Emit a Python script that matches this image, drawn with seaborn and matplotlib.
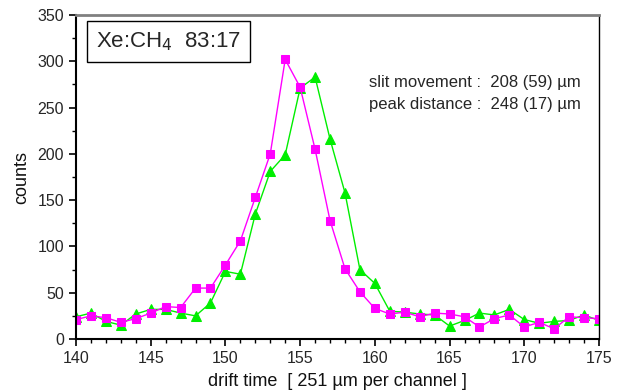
import numpy as np
import pandas as pd
import seaborn as sns
import matplotlib
matplotlib.use("Agg")
import matplotlib.pyplot as plt
from matplotlib.ticker import MultipleLocator

channels = list(range(140, 176))
counts_magenta = [21, 25, 23, 18, 22, 28, 35, 34, 55, 55, 80, 106, 153, 200, 302, 272,
                  205, 128, 76, 51, 33, 27, 29, 24, 28, 27, 24, 13, 22, 26, 13, 18, 11, 24, 23, 22]
counts_green = [24, 28, 19, 15, 27, 32, 32, 28, 25, 39, 73, 70, 135, 181, 199, 271,
                283, 216, 158, 75, 60, 30, 29, 27, 26, 14, 20, 28, 26, 32, 21, 17, 19, 20, 26, 20]

df = pd.DataFrame({"channel": channels, "magenta": counts_magenta, "green": counts_green})

sns.set_theme(style="white")
plt.rcParams['font.family'] = ['Liberation Sans', 'DejaVu Sans']

fig = plt.figure(figsize=(6.2, 3.92), dpi=100)
ax = fig.add_axes([0.1226, 0.1352, 0.8435, 0.8265])

sns.lineplot(data=df, x="channel", y="green", ax=ax, color="#00ee00", lw=1.0,
             marker="^", markersize=7, markeredgecolor="#00ee00", markerfacecolor="#00ee00")
sns.lineplot(data=df, x="channel", y="magenta", ax=ax, color="#ff00ff", lw=1.0,
             marker="s", markersize=6, markeredgecolor="#ff00ff", markerfacecolor="#ff00ff")

ax.set_xlim(140, 175)
ax.set_ylim(0, 350)
ax.xaxis.set_major_locator(MultipleLocator(5))
ax.xaxis.set_minor_locator(MultipleLocator(1))
ax.yaxis.set_major_locator(MultipleLocator(50))
ax.yaxis.set_minor_locator(MultipleLocator(25))
ax.tick_params(axis='both', which='major', direction='out', length=5, width=1.2,
               color='black', labelsize=11.5, bottom=True, left=True, top=False, right=False)
ax.tick_params(axis='both', which='minor', direction='out', length=3, width=1.0,
               color='black', bottom=True, left=True, top=False, right=False)

for s in ['left', 'bottom']:
    ax.spines[s].set_color('black')
    ax.spines[s].set_linewidth(1.5)
ax.spines['top'].set_color('#808080')
ax.spines['top'].set_linewidth(2.0)
ax.spines['right'].set_color('black')
ax.spines['right'].set_linewidth(1.0)

ax.set_xlabel("drift time  [ 251 \u00b5m per channel ]", fontsize=13, color='#111111')
ax.set_ylabel("counts", fontsize=13, color='#111111')
ax.xaxis.labelpad = 5
ax.yaxis.labelpad = 5

ax.text(0.038, 0.918, "Xe:CH$_4$  83:17", transform=ax.transAxes, fontsize=16,
        va='center', ha='left',
        bbox=dict(boxstyle='square,pad=0.4', facecolor='white', edgecolor='black', linewidth=1.0))
ax.text(0.56, 0.793, "slit movement :  208 (59) \u00b5m", transform=ax.transAxes,
        fontsize=12, va='center', ha='left')
ax.text(0.56, 0.725, "peak distance :  248 (17) \u00b5m", transform=ax.transAxes,
        fontsize=12, va='center', ha='left')

fig.savefig("out.png", dpi=100)
